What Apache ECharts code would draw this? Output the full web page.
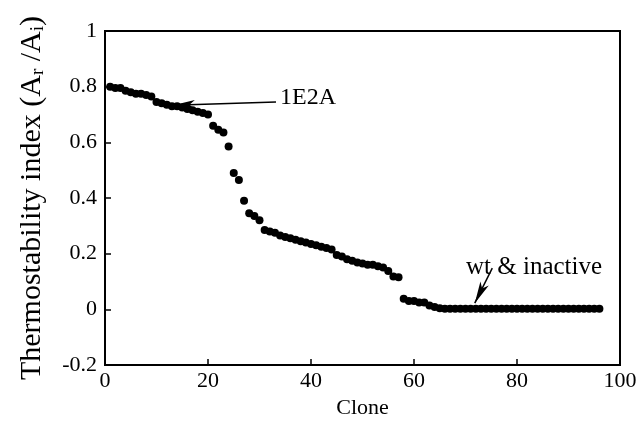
<!DOCTYPE html>
<html>
<head>
<meta charset="utf-8">
<script src="https://cdn.jsdelivr.net/npm/echarts@6/dist/echarts.min.js"></script>
<style>
  html, body { margin: 0; padding: 0; background: #fff; }
  #chart { width: 643px; height: 432px; }
</style>
</head>
<body>
<div id="chart"></div>
<script>
// clone numbers 1..96
const clones = [
  1, 2, 3, 4, 5, 6, 7, 8, 9, 10, 11, 12, 13, 14, 15, 16, 17, 18, 19, 20,
  21, 22, 23, 24, 25, 26, 27, 28, 29, 30, 31, 32, 33, 34, 35, 36, 37, 38, 39, 40,
  41, 42, 43, 44, 45, 46, 47, 48, 49, 50, 51, 52, 53, 54, 55, 56, 57, 58, 59, 60,
  61, 62, 63, 64, 65, 66, 67, 68, 69, 70, 71, 72, 73, 74, 75, 76, 77, 78, 79, 80,
  81, 82, 83, 84, 85, 86, 87, 88, 89, 90, 91, 92, 93, 94, 95, 96
]
// thermostability index
const thermoIndex = [
  0.80, 0.795, 0.795, 0.785, 0.78, 0.775, 0.775, 0.77, 0.765, 0.745,
  0.74, 0.735, 0.73, 0.73, 0.725, 0.72, 0.715, 0.71, 0.705, 0.70,
  0.66, 0.645, 0.635, 0.585, 0.49, 0.465, 0.39, 0.345, 0.335, 0.32,
  0.285, 0.28, 0.275, 0.265, 0.26, 0.255, 0.25, 0.245, 0.24, 0.235,
  0.23, 0.225, 0.22, 0.215, 0.195, 0.19, 0.18, 0.175, 0.168, 0.165,
  0.16, 0.16, 0.155, 0.15, 0.138, 0.118, 0.115, 0.038, 0.03, 0.03,
  0.025, 0.025, 0.014, 0.008, 0.004, 0.002, 0.002, 0.002, 0.002, 0.002,
  0.002, 0.002, 0.002, 0.002, 0.002, 0.002, 0.002, 0.002, 0.002, 0.002,
  0.002, 0.002, 0.002, 0.002, 0.002, 0.002, 0.002, 0.002, 0.002, 0.002,
  0.002, 0.002, 0.002, 0.002, 0.002, 0.002
]
const xTicks = [0, 20, 40, 60, 80, 100]
const yTicks = [-0.2, 0, 0.2, 0.4, 0.6, 0.8, 1]
// annotation arrows: [tail, tip] in data units
const arrow1E2A = [[33.2, 0.745], [13.2, 0.733]]
const arrowWt = [[75.2, 0.148], [71.8, 0.022]]

const font = 'Liberation Serif'
const chart = echarts.init(document.getElementById('chart'))

const axisCommon = {
  axisLine: { onZero: false, lineStyle: { color: '#000', width: 2 } },
  axisTick: { inside: true, length: 6, lineStyle: { color: '#000', width: 1.5 } },
  splitLine: { show: false },
  axisLabel: { color: '#000', fontFamily: font, fontSize: 22 }
}

chart.setOption({
  animation: false,
  backgroundColor: '#fff',
  grid: {
    left: 105, right: 23, top: 31, bottom: 67,
    show: true, borderColor: '#000', borderWidth: 2
  },
  xAxis: Object.assign({}, axisCommon, {
    type: 'value',
    min: xTicks[0],
    max: xTicks[xTicks.length - 1],
    interval: 20,
    name: 'Clone',
    nameLocation: 'middle',
    nameGap: 32,
    nameTextStyle: { color: '#000', fontFamily: font, fontSize: 22 },
    axisLabel: Object.assign({}, axisCommon.axisLabel, { margin: 5 })
  }),
  yAxis: Object.assign({}, axisCommon, {
    type: 'value',
    min: yTicks[0],
    max: yTicks[yTicks.length - 1],
    interval: 0.2,
    name: '{a|Thermostability index (A}{s|r}{a| /A}{s|i}{a|)}',
    nameLocation: 'middle',
    nameGap: 57,
    nameTextStyle: {
      rich: {
        a: { color: '#000', fontFamily: font, fontSize: 30 },
        s: { color: '#000', fontFamily: font, fontSize: 19, verticalAlign: 'bottom', padding: [12, 0, 0, 0] }
      }
    },
    axisLabel: Object.assign({}, axisCommon.axisLabel, {
      margin: 8,
      formatter: v => (Math.abs(v) < 1e-9 ? '0' : String(+v.toFixed(1)))
    })
  }),
  series: [
    {
      type: 'scatter',
      symbol: 'circle',
      symbolSize: 8,
      itemStyle: { color: '#000', opacity: 1 },
      data: clones.map((c, i) => [c, thermoIndex[i]]),
      markLine: {
        silent: true,
        symbol: ['none', 'arrow'],
        symbolSize: [7, 22],
        lineStyle: { color: '#000', width: 1.5, type: 'solid' },
        label: { show: false },
        data: [
          [{ coord: arrow1E2A[0] }, { coord: arrow1E2A[1] }],
          [{ coord: arrowWt[0] }, { coord: arrowWt[1] }]
        ]
      }
    }
  ],
  graphic: [
    { type: 'text', left: 280, top: 86, style: { text: '1E2A', fill: '#000', font: '24px "Liberation Serif"' } },
    { type: 'text', left: 466, top: 255, style: { text: 'wt & inactive', fill: '#000', font: '25px "Liberation Serif"' } }
  ]
})
</script>
</body>
</html>
